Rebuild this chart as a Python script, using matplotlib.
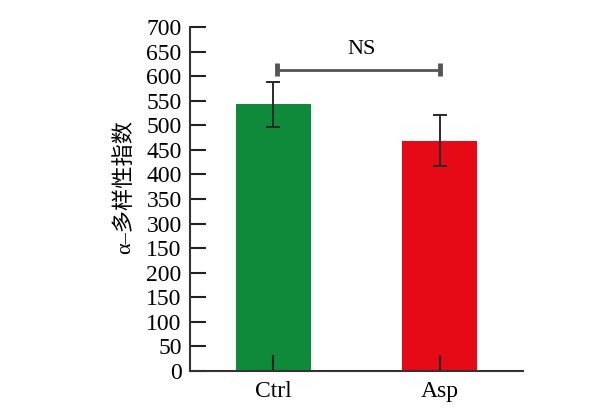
import matplotlib.pyplot as plt

# 数据
groups = ['Ctrl', 'Asp']
means = [543, 469]
errs = [46, 51]
bar_colors = ['#0f8a3a', '#e60a17']
# 原图刻度标签（保留原图中 250 处误写为 150）
ytick_vals = [0, 50, 100, 150, 200, 250, 300, 350, 400, 450, 500, 550, 600, 650, 700]
ytick_labels = ['0', '50', '100', '150', '200', '150', '300', '350', '400',
                '450', '500', '550', '600', '650', '700']
sig_y = 613
sig_text = 'NS'

plt.rcParams['font.family'] = ['Liberation Serif', 'Noto Sans CJK SC']

fig = plt.figure(figsize=(6.04, 4.11), dpi=100)
ax = fig.add_axes([190 / 604, 40 / 411, 333 / 604, 344 / 411])

x = range(len(groups))
ax.bar(x, means, width=0.45, color=bar_colors, zorder=1)
ax.errorbar(x, means, yerr=errs, fmt='none', ecolor='#2a2a2a',
            elinewidth=1.4, capsize=5, capthick=1.4, zorder=3)

# 显著性标注
ax.plot([0.02, 1.0], [sig_y, sig_y], color='#555555', lw=2, solid_capstyle='butt')
for xe in [0.02, 1.0]:
    ax.plot([xe, xe], [sig_y - 13, sig_y + 13], color='#555555', lw=3.5,
            solid_capstyle='butt')
ax.text(0.53, sig_y + 22, sig_text, ha='center', va='bottom', fontsize=16)

ax.set_xlim(-0.5, 1.5)
ax.set_ylim(0, 700)
ax.set_xticks(list(x))
ax.set_xticklabels(groups, fontsize=17)
ax.set_yticks(ytick_vals)
ax.set_yticklabels(ytick_labels, fontsize=17)
ax.tick_params(direction='in', length=11.5, width=1.5, color='#222222', pad=6)
ax.tick_params(axis='x', pad=7)
ax.set_ylabel('α–多样性指数', fontsize=16)
ax.yaxis.set_label_coords(-0.165, 0.535)

for s in ['top', 'right']:
    ax.spines[s].set_visible(False)
for s in ['left', 'bottom']:
    ax.spines[s].set_linewidth(1.5)
    ax.spines[s].set_color('#333333')

fig.savefig('out.png', dpi=100)
